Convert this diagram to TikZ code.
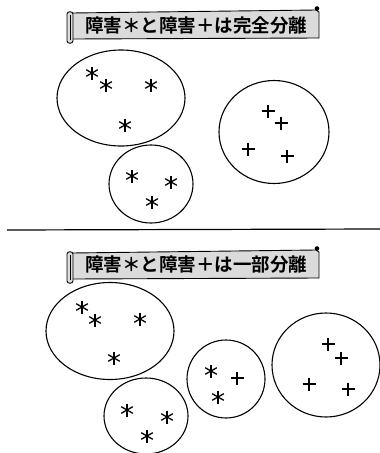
\documentclass[tikz,border=0pt]{standalone}
\usepackage{fontspec}
\usetikzlibrary{shapes.geometric}
\newfontfamily\cjk{Noto Sans CJK JP Bold}
\tikzset{
  grp/.style={draw=black, line width=1.1pt, ellipse, inner sep=0pt},
  bannerbody/.style={draw=black, line width=0.9pt, fill=gray!28},
  bannertext/.style={font=\cjk\fontsize{18.5}{20}\selectfont, inner sep=0pt},
  sep/.style={draw=black, line width=1.2pt},
  pics/astk/.style={code={
    \draw[line width=1.3pt] (0,-6.5) -- (0,6.5);
    \draw[line width=1.3pt] (-5.8,-3.3) -- (5.8,3.3);
    \draw[line width=1.3pt] (-5.8,3.3) -- (5.8,-3.3);
  }},
  pics/pls/.style={code={
    \draw[line width=1.6pt] (0,-6.5) -- (0,6.5);
    \draw[line width=1.6pt] (-6.5,0) -- (6.5,0);
  }},
  pics/banner/.style={code={
    \path[bannerbody] (5,3) -- (249,0) -- (252,2) -- (252,28) -- (5,29) -- cycle;
    \path[bannerbody] (0,4) .. controls (0,1) and (6,1) .. (6,4) -- (6,31) .. controls (6,34) and (0,34) .. (0,31) -- cycle;
    \fill[black] (250,-1.5) circle (2.3);
    \draw[line width=0.8pt] (3,5) -- (3,30);
  }}
}
\begin{document}
\begin{tikzpicture}[x=1pt,y=-1pt]
\useasboundingbox (0,0) rectangle (380,453);
% top banner
\pic at (67,10) {banner};
\node[bannertext] (t1) at (196,25) {障害＊と障害＋は完全分離};
% top groups
\node[grp, minimum width=128pt, minimum height=96pt] (a1) at (121,98) {};
\node[grp, minimum width=84pt, minimum height=78pt] (a2) at (151,184) {};
\node[grp, minimum width=110pt, minimum height=103pt] (a3) at (274,132) {};
\pic at (92,73) {astk};
\pic at (106,85) {astk};
\pic at (151,85) {astk};
\pic at (125,125) {astk};
\pic at (132,176) {astk};
\pic at (171,182) {astk};
\pic at (152,202) {astk};
\pic at (268,111) {pls};
\pic at (281,123) {pls};
\pic at (248,149) {pls};
\pic at (287,156) {pls};
% separator
\coordinate (s1) at (7,230);
\coordinate (s2) at (380,229);
\draw[sep] (s1) -- (s2);
% bottom banner
\pic at (67,250) {banner};
\node[bannertext] (t2) at (196,265) {障害＊と障害＋は一部分離};
% bottom groups
\node[grp, minimum width=128pt, minimum height=97pt] (b1) at (110,331) {};
\node[grp, minimum width=84pt, minimum height=76pt] (b2) at (146,416) {};
\node[grp, minimum width=78pt, minimum height=78pt] (b3) at (226,379) {};
\node[grp, minimum width=108pt, minimum height=104pt] (b4) at (326,365) {};
\pic at (82,307) {astk};
\pic at (95,320) {astk};
\pic at (140,319) {astk};
\pic at (114,358) {astk};
\pic at (127,410) {astk};
\pic at (167,417) {astk};
\pic at (147,436) {astk};
\pic at (211,371) {astk};
\pic at (237,378) {pls};
\pic at (218,397) {astk};
\pic at (328,344) {pls};
\pic at (341,358) {pls};
\pic at (309,384) {pls};
\pic at (348,389) {pls};
\end{tikzpicture}
\end{document}
